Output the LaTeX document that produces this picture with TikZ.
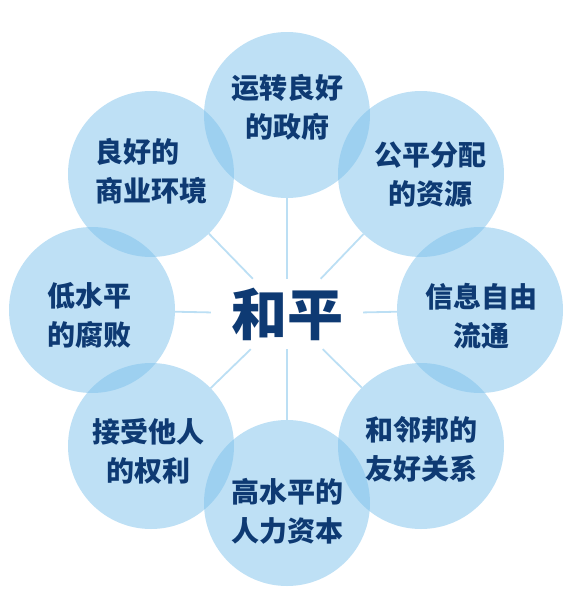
\documentclass[tikz,border=0pt]{standalone}
\usepackage{fontspec}
\usepackage{tikz}
\usetikzlibrary{positioning}
\newfontfamily\cjk{Noto Sans CJK SC}
\definecolor{bubble}{RGB}{125,193,235}
\definecolor{ink}{RGB}{14,58,115}
\definecolor{spokeblue}{RGB}{188,223,244}
\tikzset{
goal/.style={
circle,
minimum size=166pt,
inner sep=0pt,
fill=bubble,
fill opacity=0.5
},
goaltext/.style={
inner sep=0pt,
align=center,
text=ink,
font=\cjk\bfseries\fontsize{28}{39}\selectfont
},
core/.style={
fill=white,
minimum width=152pt,
minimum height=70pt,
text=ink,
font=\cjk\bfseries\fontsize{56}{62}\selectfont
},
spoke/.style={
draw=spokeblue,
line width=1.8pt
}
}
\begin{document}
\begin{tikzpicture}[x=1pt,y=-1pt]
\useasboundingbox (0,0) rectangle (581,600);
% bubbles
\node[goal](g1) at (287,115){};
\node[goal](g2) at (421,174){};
\node[goal](g3) at (480,310){};
\node[goal](g4) at (421,446){};
\node[goal](g5) at (287,503){};
\node[goal](g6) at (151,446){};
\node[goal](g7) at (92,310){};
\node[goal](g8) at (151,174){};

\node[core](peace) at (287,314){和平};

\foreach \g in {g1,g2,g3,g4,g5,g6,g7,g8}
\draw[spoke](peace)--(\g);

% labels
\node[goaltext](t1) at (287,107){运转良好\\的政府};
\node[goaltext](t2) at (430,174){公平分配\\的资源};
\node[goaltext](t3) at (481,316){信息自由\\流通};
\node[goaltext](t4) at (421,449){和邻邦的\\友好关系};
\node[goaltext](t5) at (287,511){高水平的\\人力资本};
\node[goaltext](t6) at (148,451){接受他人\\的权利};
\node[goaltext](t7) at (89,315){低水平\\的腐败};
\node[goaltext,align=left](t8) at (151,171){良好的\\商业环境};
\end{tikzpicture}
\end{document}
